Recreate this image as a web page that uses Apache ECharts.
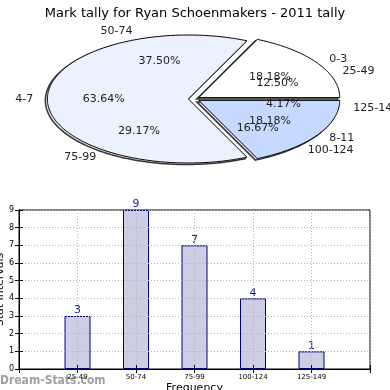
<!DOCTYPE html>
<html><head><meta charset="utf-8">
<script src="https://cdn.jsdelivr.net/npm/echarts@6/dist/echarts.min.js"></script>
<style>html,body{margin:0;padding:0;background:#fff}#c{width:390px;height:390px}</style>
</head><body><div id="c"></div>
<script>
// ---- data ----
const titleText = 'Mark tally for Ryan Schoenmakers - 2011 tally';
const pie1Cats = ['0-3', '4-7', '8-11'];
const pie1Vals = [2, 7, 2];
const pie2Cats = ['25-49', '50-74', '75-99', '100-124', '125-149'];
const pie2Vals = [3, 9, 7, 4, 1];
const barCats = ['25-49', '50-74', '75-99', '100-124', '125-149'];
const barVals = [3, 9, 7, 4, 1];
const yTicks = [0, 1, 2, 3, 4, 5, 6, 7, 8, 9];

// ---- layout ----
const FONT = 'DejaVu Sans';
const PC = { cx: 194, cy: 99, rx: 141, ry: 64, explode: 0.04 };
const pie1Colors = ['#ffffff', '#ebf1fe', '#c6d9fe'];

function angles(vals) {
  const sum = vals.reduce((a, b) => a + b, 0);
  let acc = 0;
  return vals.map(v => { const a0 = acc / sum * 360; acc += v; return { a0, a1: acc / sum * 360, pct: (v / sum * 100).toFixed(2) + '%' }; });
}
const ang1 = angles(pie1Vals);
const ang2 = angles(pie2Vals);
const rad = d => d * Math.PI / 180;
function centerOf(a) {
  const m = rad((a.a0 + a.a1) / 2);
  return [PC.cx + PC.explode * PC.rx * Math.cos(m), PC.cy - PC.explode * PC.ry * Math.sin(m)];
}
function wedgePts(a, dx, dy) {
  const c = centerOf(a);
  const pts = [[c[0] + dx, c[1] + dy]];
  const n = Math.max(2, Math.ceil(a.a1 - a.a0));
  for (let i = 0; i <= n; i++) {
    const t = rad(a.a0 + (a.a1 - a.a0) * i / n);
    pts.push([c[0] + dx + PC.rx * Math.cos(t), c[1] + dy - PC.ry * Math.sin(t)]);
  }
  return pts;
}
function labelEls(a, name) {
  const c = centerOf(a);
  const m = rad((a.a0 + a.a1) / 2);
  const px = c[0] + 0.6 * PC.rx * Math.cos(m), py = c[1] - 0.6 * PC.ry * Math.sin(m);
  const nx = c[0] + 1.1 * PC.rx * Math.cos(m), ny = c[1] - 1.1 * PC.ry * Math.sin(m);
  return [
    { type: 'text', z2: 20, style: { text: a.pct, x: px, y: py, align: 'center', verticalAlign: 'middle', font: '11px "' + FONT + '"', fill: '#222' } },
    { type: 'text', z2: 20, style: { text: name, x: nx, y: ny, align: Math.cos(m) >= 0 ? 'left' : 'right', verticalAlign: 'middle', font: '11px "' + FONT + '"', fill: '#222' } }
  ];
}

const chart = echarts.init(document.getElementById('c'), null, { renderer: 'canvas' });
chart.setOption({
  animation: false,
  backgroundColor: '#fff',
  title: { text: titleText, left: 'center', top: 2, textStyle: { fontFamily: FONT, fontSize: 13, fontWeight: 'normal', color: '#000' } },
  graphic: [{ type: 'text', left: 0, top: 375, z: 0, style: { text: 'Dream-Stats.com', font: 'bold 12px "DejaVu Sans Condensed", "DejaVu Sans"', fill: '#a0a0a0' } }],
  grid: { left: 19, right: 20, top: 210, bottom: 21, containLabel: false, outerBoundsMode: 'none', show: true, borderColor: '#000', borderWidth: 1, backgroundColor: 'transparent' },
  xAxis: [
    { type: 'value', min: 0, max: 6, interval: 1, z: 10,
      axisLine: { show: true, lineStyle: { color: '#000' } },
      axisTick: { show: true, inside: true, length: 4, lineStyle: { color: '#000' } },
      axisLabel: { fontFamily: FONT, fontSize: 7, color: '#000', margin: 5, formatter: v => barCats[v - 1] || '' },
      splitLine: { show: true, lineStyle: { color: '#b4b4b4', type: [1, 2], width: 1 } },
      name: 'Frequency', nameLocation: 'middle', nameGap: 14, nameMoveOverlap: false, nameTextStyle: { fontFamily: FONT, fontSize: 11, color: '#000' } },
    { type: 'value', position: 'top', min: 0, max: 6, interval: 1, z: 10,
      axisLine: { show: true, lineStyle: { color: '#000' } },
      axisTick: { show: true, inside: true, length: 4, lineStyle: { color: '#000' } },
      axisLabel: { show: false }, splitLine: { show: false } }
  ],
  yAxis: [
    { type: 'value', min: 0, max: 9, interval: 1, z: 10,
      axisLine: { show: true, lineStyle: { color: '#000' } },
      axisTick: { show: true, inside: true, length: 4, lineStyle: { color: '#000' } },
      axisLabel: { fontFamily: FONT, fontSize: 8, color: '#000', margin: 5, formatter: v => yTicks.includes(v) ? String(v) : '' },
      splitLine: { show: true, lineStyle: { color: '#b4b4b4', type: [1, 2], width: 1 } },
      name: 'Stat Intervals', nameLocation: 'middle', nameGap: 13, nameRotate: 90, nameMoveOverlap: false, nameTextStyle: { fontFamily: FONT, fontSize: 11, color: '#000' } },
    { type: 'value', position: 'right', min: 0, max: 9, interval: 1, z: 10,
      axisLine: { show: true, lineStyle: { color: '#000' } },
      axisTick: { show: true, inside: true, length: 4, lineStyle: { color: '#000' } },
      axisLabel: { show: false }, splitLine: { show: false } }
  ],
  series: [
    { type: 'bar', xAxisIndex: 0, yAxisIndex: 0, barWidth: 26, z: 2,
      data: barVals.map((v, i) => [i + 1, v]),
      itemStyle: { color: '#cdcde3', borderColor: '#000080', borderWidth: 1 },
      label: { show: true, position: 'top', distance: 0, color: '#1a1a8c', fontFamily: FONT, fontSize: 11, formatter: p => String(p.value[1]) } },
    // pie 1 shadows
    { type: 'custom', coordinateSystem: 'none', z: 3, data: pie1Vals, silent: true,
      renderItem: (params) => ({ type: 'polygon', shape: { points: wedgePts(ang1[params.dataIndex], -2, 1.5) }, style: { fill: 'rgba(0,0,0,0.1)', stroke: 'rgba(20,20,20,0.85)', lineWidth: 1.5 } }) },
    // pie 1 wedges
    { type: 'custom', coordinateSystem: 'none', z: 4, data: pie1Vals, silent: true,
      renderItem: (params) => ({ type: 'polygon', shape: { points: wedgePts(ang1[params.dataIndex], 0, 0) }, style: { fill: pie1Colors[params.dataIndex], stroke: '#000', lineWidth: 1 } }) },
    // pie 1 labels
    { type: 'custom', coordinateSystem: 'none', z: 5, data: pie1Vals, silent: true,
      renderItem: (params) => ({ type: 'group', children: labelEls(ang1[params.dataIndex], pie1Cats[params.dataIndex]) }) },
    // pie 2 labels
    { type: 'custom', coordinateSystem: 'none', z: 5, data: pie2Vals, silent: true,
      renderItem: (params) => ({ type: 'group', children: labelEls(ang2[params.dataIndex], pie2Cats[params.dataIndex]) }) }
  ]
});
</script></body></html>
